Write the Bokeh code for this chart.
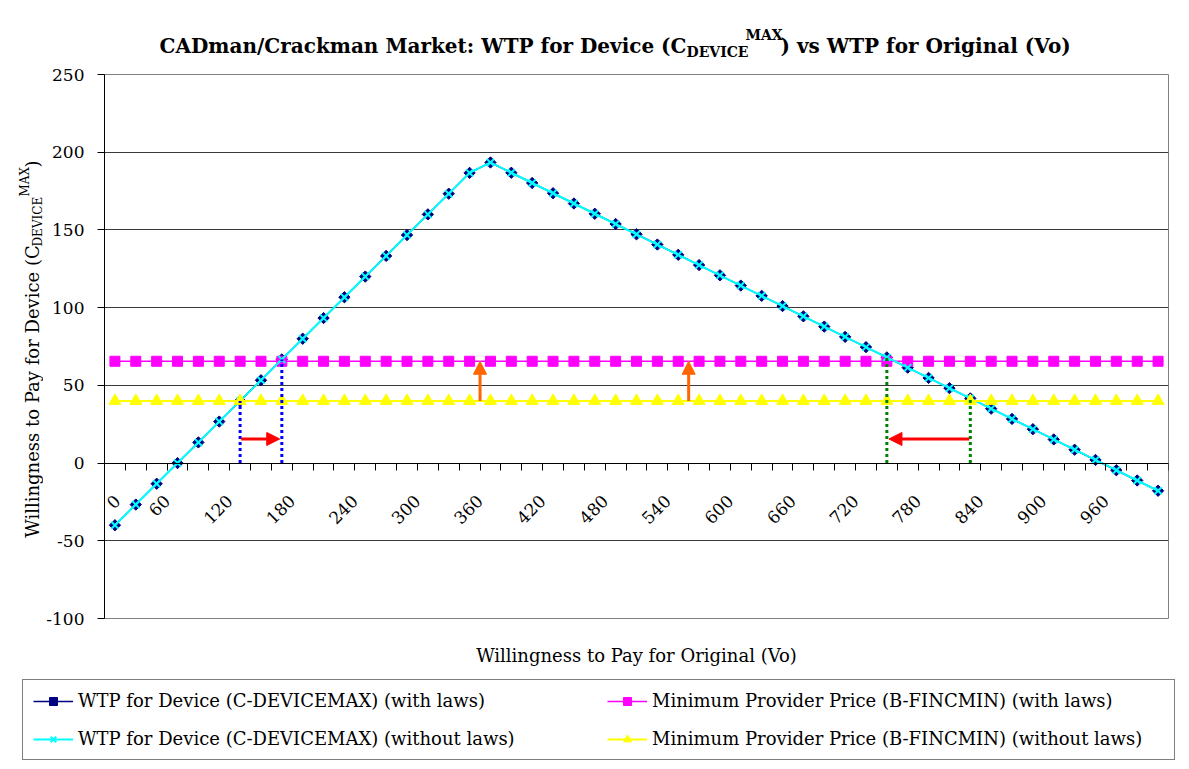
import math
from bokeh.plotting import figure
from bokeh.layouts import column, row
from bokeh.models import (FixedTicker, Range1d, Legend, LegendItem, LinearAxis,
                          Arrow, NormalHead)
from bokeh.embed import file_html
from bokeh.resources import INLINE
from bokeh.core.properties import value

# ---------------- data ----------------
vo_values = [0, 20, 40, 60, 80, 100, 120, 140, 160, 180, 200, 220, 240, 260, 280, 300,
             320, 340, 360, 380, 400, 420, 440, 460, 480, 500, 520, 540, 560, 580, 600,
             620, 640, 660, 680, 700, 720, 740, 760, 780, 800, 820, 840, 860, 880, 900,
             920, 940, 960, 980, 1000]

x_tick_labels = ["0", "60", "120", "180", "240", "300", "360", "420", "480", "540",
                 "600", "660", "720", "780", "840", "900", "960"]

device_with_laws = [-40, -26.7, -13.3, 0, 13.3, 26.7, 40, 53.3, 66.7, 80, 93.3, 106.7,
                    120, 133.3, 146.7, 160, 173.3, 186.7, 193.4, 186.8, 180.2, 173.6,
                    167.0, 160.4, 153.8, 147.2, 140.6, 134.0, 127.4, 120.8, 114.2, 107.6,
                    101.0, 94.4, 87.8, 81.2, 74.6, 68.0, 61.4, 54.8, 48.2, 41.6, 35.0,
                    28.4, 21.8, 15.2, 8.6, 2.0, -4.6, -11.2, -17.8]

device_without_laws = [-40, -26.7, -13.3, 0, 13.3, 26.7, 40, 53.3, 66.7, 80, 93.3, 106.7,
                       120, 133.3, 146.7, 160, 173.3, 186.7, 193.4, 186.8, 180.2, 173.6,
                       167.0, 160.4, 153.8, 147.2, 140.6, 134.0, 127.4, 120.8, 114.2, 107.6,
                       101.0, 94.4, 87.8, 81.2, 74.6, 68.0, 61.4, 54.8, 48.2, 41.6, 35.0,
                       28.4, 21.8, 15.2, 8.6, 2.0, -4.6, -11.2, -17.8]

provider_with_laws = [65.5, 65.5, 65.5, 65.5, 65.5, 65.5, 65.5, 65.5, 65.5, 65.5, 65.5,
                      65.5, 65.5, 65.5, 65.5, 65.5, 65.5, 65.5, 65.5, 65.5, 65.5, 65.5,
                      65.5, 65.5, 65.5, 65.5, 65.5, 65.5, 65.5, 65.5, 65.5, 65.5, 65.5,
                      65.5, 65.5, 65.5, 65.5, 65.5, 65.5, 65.5, 65.5, 65.5, 65.5, 65.5,
                      65.5, 65.5, 65.5, 65.5, 65.5, 65.5, 65.5]

provider_without_laws = [40, 40, 40, 40, 40, 40, 40, 40, 40, 40, 40, 40, 40, 40, 40, 40,
                         40, 40, 40, 40, 40, 40, 40, 40, 40, 40, 40, 40, 40, 40, 40, 40,
                         40, 40, 40, 40, 40, 40, 40, 40, 40, 40, 40, 40, 40, 40, 40, 40,
                         40, 40, 40]

y_ticks = [-100, -50, 0, 50, 100, 150, 200, 250]
y_tick_labels = ["-100", "-50", "0", "50", "100", "150", "200", "250"]

# annotation guides (Vo value of the guide, top of the dotted line)
blue_guide_vo = [120, 160]
blue_guide_top = [40, 66.7]
green_guide_vo = [740, 820]
green_guide_top = [68.0, 41.6]
# arrows (in Vo units): start, end, level
red_arrows = [(121, 158, 15.5), (819, 742, 15.5)]
orange_arrows = [(350, 40, 65.5), (550, 40, 65.5)]

series_labels = ["WTP for Device (C-DEVICEMAX) (with laws)",
                 "WTP for Device (C-DEVICEMAX) (without laws)",
                 "Minimum Provider Price (B-FINCMIN) (with laws)",
                 "Minimum Provider Price (B-FINCMIN) (without laws)"]

title_parts = ["CADman/Crackman Market: WTP for Device (C", "DEVICE", "MAX",
               ") vs WTP for Original (Vo)"]
ylabel_parts = ["Willingness to Pay for Device (C", "DEVICE", "MAX", ")"]
xlabel_text = "Willingness to Pay for Original (Vo)"

# ---------------- layout ----------------
FONT = "DejaVu Serif"
PAGE_W, PAGE_H = 1189, 769
TITLE_H = 60
YLAB_W = 43
BOTTOM_H = 99
FRAME_L, FRAME_R, FRAME_T, FRAME_B = 102, 1168, 74, 618   # page pixels
MAIN_W = PAGE_W - YLAB_W
MAIN_H = PAGE_H - TITLE_H - BOTTOM_H

STEP = vo_values[1] - vo_values[0]
idx = [v / STEP for v in vo_values]
n = len(vo_values)


def blank_fig(w, h, x0, x1, y0, y1):
    f = figure(width=w, height=h, output_backend="svg", toolbar_location=None,
               x_range=Range1d(x0, x1), y_range=Range1d(y0, y1),
               x_axis_type=None, y_axis_type=None, min_border=0)
    f.outline_line_color = None
    f.grid.visible = False
    f.background_fill_color = "white"
    f.border_fill_color = "white"
    return f


# ---------------- title (y = -page_y) ----------------
tf = blank_fig(PAGE_W, TITLE_H, 0, PAGE_W, -TITLE_H, 0)
J = 686
for txt, xx, yy, fs, al in [(title_parts[0], J, 45, "20px", "right"),
                            (title_parts[1], J, 51, "14px", "left"),
                            (title_parts[2], J + 59, 34, "14px", "left"),
                            (title_parts[3], J + 94, 45, "20px", "left")]:
    tf.text(x=[xx], y=[-yy], text=[txt], text_align=al, text_baseline="alphabetic",
            text_font=value(FONT), text_font_style="bold", text_font_size=value(fs),
            text_color="black")

# ---------------- y-axis title (rotated, with sub/superscript) ----------------
# this strip's frame is aligned with the chart frame (page y 74..618)
yf = blank_fig(YLAB_W, MAIN_H, 0, YLAB_W, -FRAME_B, -FRAME_T)
for txt, xx, yy, fs, al in [(ylabel_parts[0], 32, 391, "18px", "center"),
                            (ylabel_parts[1], 37, 246, "12px", "left"),
                            (ylabel_parts[2], 24, 196, "12px", "left"),
                            (ylabel_parts[3], 32, 167, "18px", "left")]:
    yf.text(x=[xx], y=[-yy], text=[txt], angle=math.pi / 2, text_align=al,
            text_baseline="middle", text_font=value(FONT), text_font_size=value(fs),
            text_color="black")

# ---------------- main chart ----------------
p = figure(width=MAIN_W, height=MAIN_H, output_backend="svg", toolbar_location=None,
           x_range=Range1d(-0.5, n - 0.5), y_range=Range1d(-100, 250),
           min_border_left=FRAME_L - YLAB_W, min_border_right=PAGE_W - FRAME_R,
           min_border_top=FRAME_T - TITLE_H, min_border_bottom=TITLE_H + MAIN_H - FRAME_B)
p.background_fill_color = "white"
p.border_fill_color = "white"
p.outline_line_color = "#808080"

p.yaxis.ticker = FixedTicker(ticks=y_ticks)
p.yaxis.major_label_overrides = dict(zip(y_ticks, y_tick_labels))
p.yaxis.major_label_text_font = FONT
p.yaxis.major_label_text_font_size = "17px"
p.yaxis.major_label_text_color = "black"
p.yaxis.major_tick_out = 7
p.yaxis.major_tick_in = 0
p.yaxis.minor_tick_line_color = None
p.yaxis.major_label_standoff = 13
p.yaxis.axis_line_color = "black"
p.yaxis.major_tick_line_color = "black"
p.ygrid.grid_line_color = "#3a3a3a"
p.xgrid.visible = False

# x axis drawn through y = 0: tick marks at category boundaries, labels rotated
LAB_SHIFT = 0.5
lab_pos = [max(vo_values.index(int(t)) - LAB_SHIFT, 0.125) for t in x_tick_labels]
p.xaxis.fixed_location = 0
p.xaxis.ticker = FixedTicker(ticks=lab_pos, minor_ticks=[i - 0.5 for i in range(n + 1)])
p.xaxis.major_label_overrides = dict(zip(lab_pos, x_tick_labels))
p.xaxis.major_label_orientation = math.pi / 4
p.xaxis.major_label_text_font = FONT
p.xaxis.major_label_text_font_size = "17px"
p.xaxis.major_label_text_color = "black"
p.xaxis.major_label_standoff = 28
p.xaxis.major_tick_out = 7
p.xaxis.major_tick_in = 0
p.xaxis.major_tick_line_color = None
p.xaxis.minor_tick_out = 7
p.xaxis.minor_tick_in = 0
p.xaxis.minor_tick_line_color = "black"
p.xaxis.axis_line_color = "black"

xt = LinearAxis(ticker=FixedTicker(ticks=[]), axis_label=xlabel_text,
                axis_line_color=None, major_tick_line_color=None,
                minor_tick_line_color=None, axis_label_standoff=26,
                axis_label_text_font=FONT, axis_label_text_font_style="normal",
                axis_label_text_font_size="18px", axis_label_text_color="black")
p.add_layout(xt, "below")

r1l = p.line(idx, device_with_laws, line_color="#000080", line_width=1.5)
r1m = p.scatter(idx, device_with_laws, marker="square", angle=math.pi / 4, size=8,
                fill_color="#000080", line_color="#000080")
r3l = p.line(idx, provider_with_laws, line_color="#FF00FF", line_width=1.5)
r3m = p.scatter(idx, provider_with_laws, marker="square", size=10,
                fill_color="#FF00FF", line_color="#FF00FF")
r2l = p.line(idx, device_without_laws, line_color="#00FFFF", line_width=2)
r2m = p.scatter(idx, device_without_laws, marker="x", size=10,
                line_color="#00FFFF", line_width=2)
r4l = p.line(idx, provider_without_laws, line_color="#FFFF00", line_width=2)
r4m = p.scatter(idx, provider_without_laws, marker="triangle", size=12,
                fill_color="#FFFF00", line_color="#FFFF00")

p.segment(x0=[v / STEP for v in blue_guide_vo], y0=[0] * len(blue_guide_vo),
          x1=[v / STEP for v in blue_guide_vo], y1=blue_guide_top,
          line_color="#0000FF", line_width=3, line_dash="3 3")
p.segment(x0=[v / STEP for v in green_guide_vo], y0=[0] * len(green_guide_vo),
          x1=[v / STEP for v in green_guide_vo], y1=green_guide_top,
          line_color="#008000", line_width=3, line_dash="3 3")

for xs, xe, yl in red_arrows:
    p.add_layout(Arrow(end=NormalHead(size=13, fill_color="#FF0000", line_color="#FF0000"),
                       x_start=xs / STEP, y_start=yl, x_end=xe / STEP, y_end=yl,
                       line_color="#FF0000", line_width=3))
for xv, ys, ye in orange_arrows:
    p.add_layout(Arrow(end=NormalHead(size=13, fill_color="#FF6600", line_color="#FF6600"),
                       x_start=xv / STEP, y_start=ys, x_end=xv / STEP, y_end=ye,
                       line_color="#FF6600", line_width=3))

# ---------------- legend (own strip below the chart) ----------------
bf = blank_fig(PAGE_W, BOTTOM_H, 0, PAGE_W, 0, BOTTOM_H)
bf.extra_x_ranges = {"off": Range1d(1000, 1001)}
l1 = bf.line(idx, device_with_laws, line_color="#000080", line_width=1.5, x_range_name="off")
m1 = bf.scatter(idx, device_with_laws, marker="square", angle=math.pi / 4, size=8,
                fill_color="#000080", line_color="#000080", x_range_name="off")
l2 = bf.line(idx, device_without_laws, line_color="#00FFFF", line_width=2, x_range_name="off")
m2 = bf.scatter(idx, device_without_laws, marker="x", size=10, line_color="#00FFFF",
                line_width=2, x_range_name="off")
l3 = bf.line(idx, provider_with_laws, line_color="#FF00FF", line_width=1.5, x_range_name="off")
m3 = bf.scatter(idx, provider_with_laws, marker="square", size=10, fill_color="#FF00FF",
                line_color="#FF00FF", x_range_name="off")
l4 = bf.line(idx, provider_without_laws, line_color="#FFFF00", line_width=2, x_range_name="off")
m4 = bf.scatter(idx, provider_without_laws, marker="triangle", size=12, fill_color="#FFFF00",
                line_color="#FFFF00", x_range_name="off")

legend = Legend(items=[
    LegendItem(label=series_labels[0], renderers=[l1, m1]),
    LegendItem(label=series_labels[1], renderers=[l2, m2]),
    LegendItem(label=series_labels[2], renderers=[l3, m3]),
    LegendItem(label=series_labels[3], renderers=[l4, m4]),
], location=(22, 9), orientation="vertical", nrows=2,
    padding=10, spacing=17, glyph_width=40, glyph_height=20, label_height=20,
    label_width=512, label_standoff=5, label_text_font=FONT,
    label_text_font_size="18px", label_text_color="black",
    border_line_color="black", border_line_width=1, background_fill_color="white",
    background_fill_alpha=1.0, margin=0)
bf.add_layout(legend)

layout = column(tf, row(yf, p), bf)
open("out.html", "w").write(file_html(layout, INLINE))
